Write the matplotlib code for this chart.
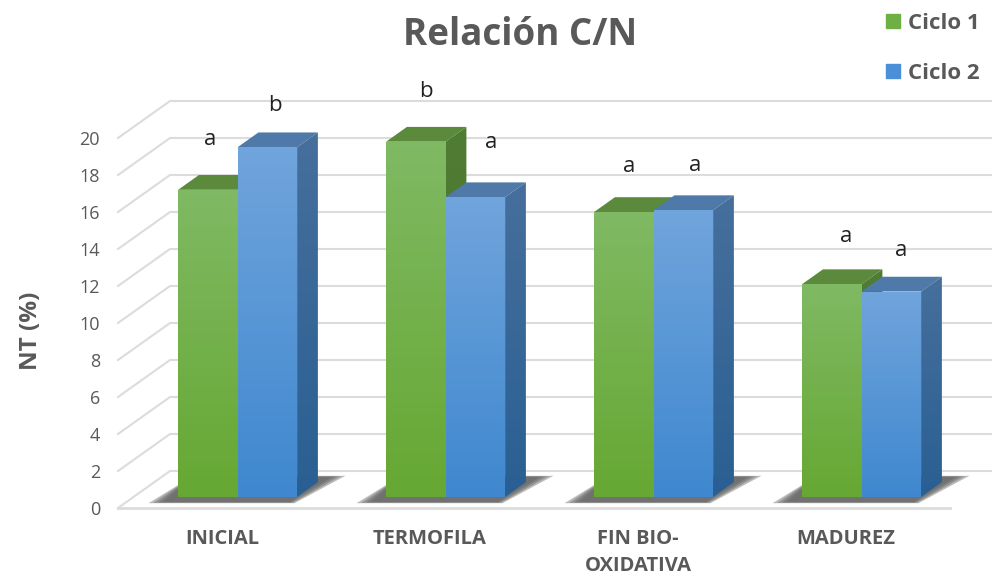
import numpy as np
import matplotlib
matplotlib.use('Agg')
from matplotlib import pyplot as plt
from matplotlib.colors import LinearSegmentedColormap
from matplotlib.lines import Line2D
from matplotlib.patches import Polygon

categorias = ['INICIAL', 'TERMOFILA', 'FIN BIO-\nOXIDATIVA', 'MADUREZ']
ciclo1 = [16.6, 19.2, 15.4, 11.5]
ciclo2 = [18.9, 16.2, 15.5, 11.1]
letras1 = ['a', 'b', 'a', 'a']
letras2 = ['b', 'a', 'a', 'a']
yticks = list(range(0, 21, 2))

GRIS = '#595959'
LINEA = '#dcdcdc'
PROF_X = 0.25  # profundidad de la caja 3D
PROF_Y = 2.0
ANCHO = 0.286
D0, D1 = 0.3, 0.7

plt.rcParams['font.family'] = ['Open Sans', 'DejaVu Sans']

fig = plt.figure(figsize=(9.92, 5.79), dpi=100)
ax = fig.add_axes([118/992, (579-508)/579, 832/992, 370/579])


def proy(x, y, d):
    return x + d*PROF_X, y + d*PROF_Y


def cara(puntos, abajo, arriba, z):
    # cara con degradado vertical recortada al poligono
    puntos = np.array(puntos)
    cmap = LinearSegmentedColormap.from_list('c', [abajo, arriba])
    grad = np.linspace(0, 1, 64).reshape(-1, 1)
    ext = (puntos[:, 0].min(), puntos[:, 0].max(), puntos[:, 1].min(), puntos[:, 1].max())
    im = ax.imshow(grad, cmap=cmap, extent=ext, origin='lower', aspect='auto', zorder=z)
    pol = Polygon(puntos, closed=True, transform=ax.transData, fc='none', ec='none')
    im.set_clip_box(fig.bbox)
    im.set_clip_path(pol)


def barra(x, v, col, z):
    x1 = x + ANCHO
    # tapa
    ax.add_patch(Polygon([proy(x, v, D0), proy(x1, v, D0), proy(x1, v, D1), proy(x, v, D1)],
                         fc=col['tapa'], ec='none', zorder=z, clip_on=False))
    # lateral
    cara([proy(x1, 0, D0), proy(x1, 0, D1), proy(x1, v, D1), proy(x1, v, D0)],
         col['lado'][0], col['lado'][1], z + 0.1)
    # frente
    cara([proy(x, 0, D0), proy(x1, 0, D0), proy(x1, v, D0), proy(x, v, D0)],
         col['frente'][0], col['frente'][1], z + 0.2)


verde = {'tapa': '#5b8a3c', 'lado': ('#47722a', '#507c33'), 'frente': ('#66a833', '#80b963')}
azul = {'tapa': '#4f79a8', 'lado': ('#2a5f93', '#466f9c'), 'frente': ('#3f88cf', '#70a4dc')}

# paredes y suelo
for v in yticks:
    xs0, ys0 = proy(-0.5, v, 0)
    xs1, ys1 = proy(-0.5, v, 1)
    xe = 3.5 + PROF_X
    ax.plot([xs0, xs1, xe], [ys0, ys1, ys1], color=LINEA, lw=1.5, zorder=1, clip_on=False)
ax.plot([-0.5, 3.5], [0, 0], color=LINEA, lw=2, zorder=1, clip_on=False)

# sombras en el suelo, capas para simular el difuminado
for i in range(len(categorias)):
    xa, xb = i - ANCHO, i + ANCHO
    for e in [0.03, 0.02, 0.01, 0]:
        ax.add_patch(Polygon([proy(xa - 0.04 - 2*e, 0, 0.16 - e), proy(xb + e, 0, 0.16 - e),
                              proy(xb + 0.03 + 2*e, 0, 0.84 + e), proy(xa - 0.07, 0, 0.84 + e)],
                             fc='#606060', ec='none', alpha=0.42, zorder=2, clip_on=False))

# barras
for i in range(len(categorias)):
    barra(i - ANCHO, ciclo1[i], verde, 3 + i)
    barra(i, ciclo2[i], azul, 3.5 + i)

# letras de significancia
off1 = [(2, 50), (10, 50), (5, 46), (14, 48)]
off2 = [(8, 42), (16, 55), (12, 45), (10, 41)]
for i in range(len(categorias)):
    for v, x, l, o in [(ciclo1[i], i - ANCHO, letras1[i], off1[i]), (ciclo2[i], i, letras2[i], off2[i])]:
        ax.annotate(l, xy=proy(x + ANCHO/2, v, D0), xytext=(o[0]*0.72, o[1]*0.72),
                    textcoords='offset points', ha='center', va='center',
                    fontsize=16, color='#222222', zorder=20, annotation_clip=False)

ax.set_xlim(-0.5, 3.5)
ax.set_ylim(0, 20)
ax.set_xticks(range(len(categorias)))
ax.set_xticklabels(categorias, fontsize=14.5, fontweight='bold', color=GRIS, linespacing=1.45)
ax.set_yticks(yticks)
ax.set_yticklabels(yticks, fontsize=13, color=GRIS)
ax.tick_params(axis='x', length=0, pad=15)
ax.tick_params(axis='y', length=0, pad=13)
ax.patch.set_visible(False)
for s in ax.spines.values():
    s.set_visible(False)

ax.set_ylabel('NT (%)', fontsize=17.5, fontweight='bold', color=GRIS, labelpad=26, y=0.48)
fig.text(520/992, 1 - 35/579, 'Relación C/N', fontsize=26.5, fontweight='bold',
         color=GRIS, ha='center', va='center')

marcas = [Line2D([], [], ls='', marker='s', ms=10.5, color='#6fb043', label='Ciclo 1'),
          Line2D([], [], ls='', marker='s', ms=10.5, color='#4a8fd8', label='Ciclo 2')]
fig.legend(handles=marcas, loc='upper right', bbox_to_anchor=(980/992, 1 - 13/579), frameon=False,
           prop={'size': 16, 'weight': 'bold'}, labelcolor=GRIS, labelspacing=1.3,
           handletextpad=0.0, handlelength=1.4, borderpad=0, borderaxespad=0)

fig.savefig('out.png', dpi=100)
